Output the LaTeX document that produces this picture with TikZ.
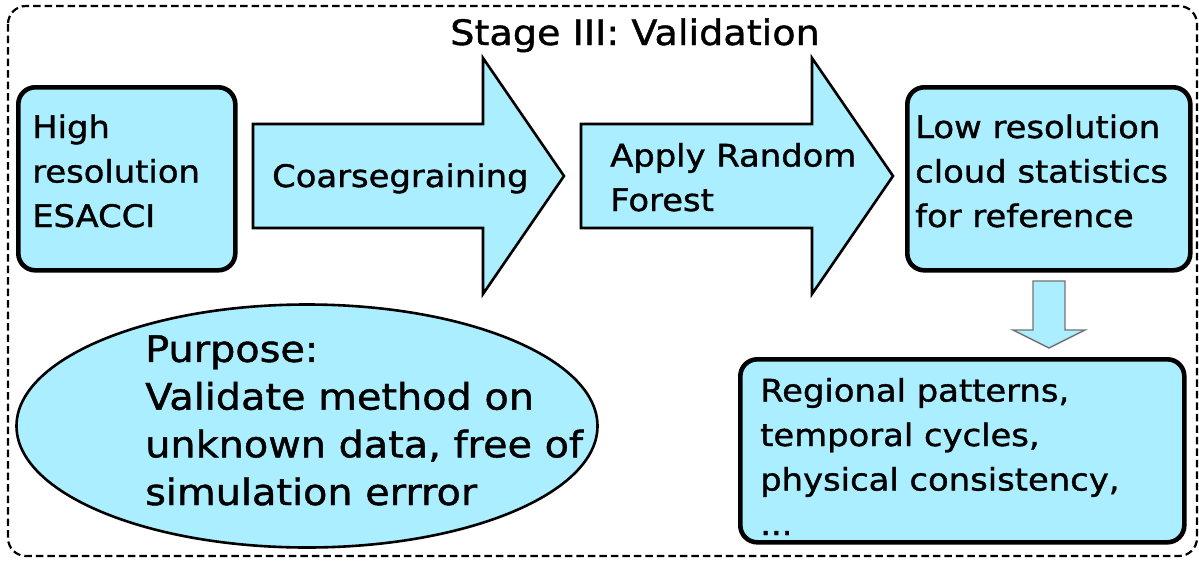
\documentclass[tikz,border=0pt]{standalone}
\usepackage{fontspec}
\setmainfont[FakeStretch=1.09,FakeBold=1.2]{DejaVu Sans}
\usetikzlibrary{shapes.geometric,calc}
\definecolor{panelfill}{RGB}{170,238,255}
\begin{document}
\begin{tikzpicture}[x=1pt,y=-1pt,
  frame/.style={draw, line width=2.2pt, dash pattern=on 7.5pt off 4pt, rounded corners=18pt},
  roundbox/.style={draw, line width=4.6pt, fill=panelfill, rounded corners=17pt,
    anchor=north west, inner sep=0pt},
  blockarrow/.style={draw, line width=2.6pt, fill=panelfill, line join=miter},
  thinarrow/.style={draw=black!55, line width=1.4pt, fill=panelfill},
  boxtext/.style={anchor=base west, inner sep=0pt, align=left,
    font=\fontsize{31}{44.5}\selectfont},
  bigtext/.style={anchor=base west, inner sep=0pt, align=left,
    font=\fontsize{36.5}{47.7}\selectfont},
]
\useasboundingbox (0,0) rectangle (1199,560);

% dashed stage frame and its title
\draw[frame] (8,6) rectangle (1197,556);
\node[anchor=base, inner sep=0pt, font=\fontsize{35}{40}\selectfont] (title) at (635,45) {Stage III: Validation};

% input data (text nodes are placed by the baseline of their last line)
\node[roundbox, minimum width=217pt, minimum height=183pt] (hires) at (16,85) {};
\node[boxtext] (hirestext) at (32,227) {High\\resolution\\ESACCI};

% first processing step
\draw[blockarrow] (253,124) -- (483,124) -- (483,58) -- (564,176) -- (483,294)
  -- (483,228) -- (253,228) -- cycle;
\node[boxtext] (coarse) at (272,187) {Coarsegraining};

% second processing step
\draw[blockarrow] (581,124) -- (812,124) -- (812,58) -- (893,176) -- (812,294)
  -- (812,228) -- (581,228) -- cycle;
\node[boxtext] (forest) at (610,211) {Apply Random\\Forest};

% output statistics
\node[roundbox, minimum width=283pt, minimum height=183pt] (lowres) at (905,85) {};
\node[boxtext] (lowrestext) at (915,227) {Low resolution\\cloud statistics\\for reference};

% evaluation criteria
\node[roundbox, minimum width=444pt, minimum height=183pt] (regional) at (738,357) {};
\node[boxtext] (regionaltext) at (760,535) {Regional patterns,\\temporal cycles,\\physical consistency,\\...};

% small arrow from statistics to criteria
\draw[thinarrow] (1033,281) -- (1065,281) -- (1065,330) -- (1085,330) -- (1049,348)
  -- (1013,330) -- (1033,330) -- cycle;

% purpose statement
\node[draw, line width=2.6pt, fill=panelfill, ellipse, inner sep=0pt,
  minimum width=581pt, minimum height=243pt] (purpose) at (307,426) {};
\node[bigtext] (purposetext) at (145,505) {Purpose:\\Validate method on\\unknown data, free of\\simulation errror};
\end{tikzpicture}
\end{document}
